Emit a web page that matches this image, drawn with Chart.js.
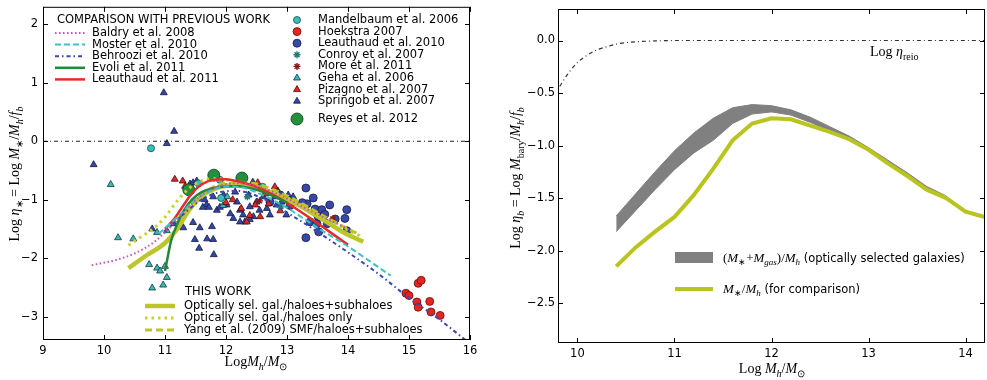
<!DOCTYPE html>
<html>
<head>
<meta charset="utf-8">
<script src="https://cdn.jsdelivr.net/npm/chart.js@4.4.1/dist/chart.umd.min.js"></script>
<style>
  html, body { margin: 0; padding: 0; background: #fff; }
  #wrap { position: relative; width: 987px; height: 380px; }
  #left { position: absolute; left: 0; top: 0; }
  #right { position: absolute; left: 490px; top: 0; }
</style>
</head>
<body>
<div id="wrap">
  <canvas id="left" width="490" height="380"></canvas>
  <canvas id="right" width="497" height="380"></canvas>
</div>
<script>
// ---------- left panel: ticks ----------
const leftXTicks = [9, 10, 11, 12, 13, 14, 15, 16];
const leftYTicks = [-3, -2, -1, 0, 1, 2];

// previous work, curves
const baldryX = [9.8, 10.2, 10.5, 10.8, 11.0, 11.3, 11.6, 11.9, 12.2, 12.6, 13.0, 13.4, 13.8, 14.0];
const baldryY = [-2.12, -2.03, -1.92, -1.74, -1.56, -1.22, -0.92, -0.76, -0.72, -0.8, -0.98, -1.2, -1.4, -1.5];
const mosterX = [10.9, 11.2, 11.5, 11.8, 12.0, 12.3, 12.6, 13.0, 13.5, 14.0, 14.7];
const mosterY = [-1.58, -1.3, -1.0, -0.82, -0.77, -0.8, -0.92, -1.14, -1.48, -1.8, -2.3];
const behrooziX = [11.0, 11.3, 11.6, 11.9, 12.2, 12.6, 13.0, 13.5, 14.0, 14.5, 15.0, 15.5, 15.95];
const behrooziY = [-1.55, -1.25, -1.0, -0.87, -0.85, -0.98, -1.22, -1.55, -1.9, -2.27, -2.68, -3.05, -3.42];
const evoliX = [11.0, 11.05, 11.1, 11.2, 11.3, 11.45, 11.6, 11.8, 12.0, 12.2, 12.5, 12.8, 13.0];
const evoliY = [-2.22, -1.95, -1.7, -1.42, -1.2, -0.99, -0.87, -0.8, -0.77, -0.77, -0.83, -0.95, -1.05];
const leau11X = [11.0, 11.15, 11.3, 11.45, 11.6, 11.8, 12.0, 12.2, 12.5, 12.8, 13.1, 13.4, 13.7, 14.0];
const leau11Y = [-1.5, -1.33, -1.1, -0.88, -0.74, -0.66, -0.65, -0.69, -0.78, -0.93, -1.12, -1.33, -1.55, -1.77];

// this work, curves
const subX = [10.4, 10.7, 11.0, 11.2, 11.4, 11.6, 11.8, 12.0, 12.2, 12.4, 12.6, 12.8, 13.0, 13.2, 13.4, 13.6, 13.8, 14.0, 14.25];
const subY = [-2.17, -1.95, -1.74, -1.5, -1.17, -0.94, -0.82, -0.76, -0.75, -0.78, -0.83, -0.9, -1.0, -1.1, -1.22, -1.35, -1.48, -1.6, -1.72];
const onlyX = [10.4, 10.6, 10.8, 11.0, 11.2, 11.4, 11.6, 11.8, 12.0, 12.4, 12.8, 13.2, 13.6, 14.0, 14.2];
const onlyY = [-1.78, -1.64, -1.5, -1.3, -1.02, -0.8, -0.68, -0.64, -0.66, -0.74, -0.88, -1.07, -1.3, -1.52, -1.62];
const yangX = [11.2, 11.5, 11.8, 12.0, 12.4, 12.8, 13.2, 13.6, 14.0, 14.2];
const yangY = [-1.35, -0.98, -0.78, -0.72, -0.72, -0.84, -1.04, -1.28, -1.5, -1.6];

const zeroX = [9, 16];
const zeroY = [0, 0];

// observations
const mandelX = [10.77, 11.55, 11.9, 11.92, 12.6];
const mandelY = [-0.12, -0.72, -0.66, -0.97, -0.78];
const hoekX = [14.95, 15.0, 15.15, 15.2, 15.13, 15.15, 15.34, 15.36, 15.51];
const hoekY = [-2.6, -2.64, -2.43, -2.38, -2.75, -2.84, -2.74, -2.92, -2.98];
const leau10X = [13.31, 13.43, 13.33, 13.25, 13.46, 13.57, 13.51, 13.38, 13.49, 13.66, 13.70, 13.98, 13.95, 13.79, 13.98, 13.31, 13.52, 12.89, 12.72, 13.05, 13.62];
const leau10Y = [-0.8, -0.97, -1.07, -1.05, -1.16, -1.17, -1.29, -1.38, -1.41, -1.41, -1.09, -1.17, -1.32, -1.33, -1.53, -1.65, -1.55, -0.92, -1.04, -1.1, -1.25];
const conroyX = [12.35, 12.9];
const conroyY = [-0.95, -1.12];
const moreX = [13.75, 12.55];
const moreY = [-1.33, -1.02];
const gehaX = [10.11, 10.23, 10.48, 10.87, 11.03, 10.74, 10.87, 11.0, 10.92, 11.03, 10.79, 10.97, 12.02, 11.95];
const gehaY = [-0.74, -1.65, -1.67, -1.56, -1.53, -2.11, -2.17, -2.14, -2.22, -2.33, -2.51, -2.46, -0.95, -1.1];
const pizX = [11.16, 11.29, 11.33, 12.11, 12.39, 12.48, 12.70, 12.89, 12.52, 12.25, 12.0, 12.56, 12.34, 12.8, 12.65];
const pizY = [-0.65, -0.68, -0.77, -1.0, -1.27, -1.09, -1.07, -1.19, -0.71, -1.15, -1.05, -1.29, -1.38, -0.78, -0.9];
const springX = [10.98, 11.15, 11.03, 9.83, 11.41, 11.46, 11.52, 10.79, 11.15, 11.30, 11.46, 11.57, 11.49, 11.69, 11.79, 11.56, 11.80, 11.77,
  11.68, 11.79, 11.85, 11.96, 12.01, 12.07, 12.12, 12.15, 12.18, 12.23, 12.28, 12.31, 12.37, 12.39, 12.45, 12.50, 12.61, 12.67, 12.72,
  12.80, 12.83, 12.91, 12.99, 13.02, 11.62, 11.72, 11.9, 12.44, 12.23, 12.39, 12.55, 12.85, 13.1, 11.65];
const springY = [0.83, 0.17, -0.04, -0.4, -0.73, -0.71, -0.68, -1.5, -1.41, -1.48, -1.39, -1.48, -1.68, -1.67, -1.68, -1.83, -1.94, -1.46,
  -1.09, -0.95, -1.18, -0.92, -1.09, -1.24, -1.32, -0.87, -1.04, -1.18, -1.26, -1.38, -0.92, -1.12, -1.29, -1.04, -0.95, -1.15, -1.26,
  -0.95, -1.09, -1.04, -1.26, -0.92, -1.13, -1.13, -1.13, -0.7, -1.38, -1.34, -1.18, -0.85, -0.95, -1.0];
const reyesX = [11.39, 11.80, 12.26];
const reyesY = [-0.83, -0.58, -0.63];

// ---------- right panel ----------
const rightXTicks = [10, 11, 12, 13, 14];
const rightYTicks = [-2.5, -2.0, -1.5, -1.0, -0.5, 0.0];
const mStarX = [10.4, 10.6, 10.8, 11.0, 11.2, 11.4, 11.6, 11.8, 12.0, 12.2, 12.4, 12.6, 12.8, 13.0, 13.2, 13.4, 13.6, 13.8, 14.0, 14.2];
const mStarY = [-2.15, -1.97, -1.82, -1.68, -1.47, -1.22, -0.95, -0.79, -0.74, -0.75, -0.81, -0.87, -0.94, -1.04, -1.17, -1.29, -1.42, -1.5, -1.63, -1.68];
const bandX = [10.4, 10.6, 10.8, 11.0, 11.2, 11.4, 11.6, 11.8, 12.0, 12.2, 12.4, 12.6, 12.8, 13.0, 13.2, 13.4, 13.6, 13.8];
const bandHi = [-1.67, -1.46, -1.25, -1.05, -0.88, -0.74, -0.64, -0.61, -0.62, -0.66, -0.73, -0.82, -0.91, -1.02, -1.14, -1.26, -1.39, -1.48];
const bandLo = [-1.82, -1.62, -1.42, -1.23, -1.07, -0.95, -0.79, -0.7, -0.68, -0.71, -0.78, -0.86, -0.93, -1.04, -1.16, -1.28, -1.41, -1.49];
const reioX = [9.75, 9.8, 9.9, 10.0, 10.1, 10.2, 10.3, 10.4, 10.5, 10.6, 10.8, 11.0, 14.2];
const reioY = [-0.52, -0.46, -0.32, -0.21, -0.14, -0.09, -0.06, -0.035, -0.02, -0.012, -0.004, 0, 0];

// ---------- styles ----------
const YELLOW = '#bcc52a';
const lineStyles = {
  baldry:   { label: 'Baldry et al. 2008',    color: '#c64fc6', width: 2,   dash: [1.5, 2.5] },
  moster:   { label: 'Moster et al. 2010',    color: '#3cc4c4', width: 2,   dash: [6, 3] },
  behroozi: { label: 'Behroozi et al. 2010',  color: '#3a48b4', width: 2,   dash: [4, 3, 1.5, 3] },
  evoli:    { label: 'Evoli et al. 2011',     color: '#23883a', width: 2.5, dash: [] },
  leau11:   { label: 'Leauthaud et al. 2011', color: '#ea2a2a', width: 2.5, dash: [] },
  sub:      { label: 'Optically sel. gal./haloes+subhaloes',  color: YELLOW, width: 4.5, dash: [] },
  only:     { label: 'Optically sel. gal./haloes only',       color: '#c9d12e', width: 3, dash: [2.5, 4] },
  yang:     { label: 'Yang et al. (2009) SMF/haloes+subhaloes', color: YELLOW, width: 3, dash: [7, 4] }
};
const pointStyles = {
  mandel: { label: 'Mandelbaum et al. 2006', shape: 'circle',   r: 3.5, fill: '#35c0c0', edge: '#1b4747' },
  hoek:   { label: 'Hoekstra 2007',          shape: 'circle',   r: 4,   fill: '#e8241f', edge: '#6a1010' },
  leau10: { label: 'Leauthaud et al. 2010',  shape: 'circle',   r: 4,   fill: '#3848a8', edge: '#161c44' },
  conroy: { label: 'Conroy et al. 2007',     shape: 'star',     r: 3.5, fill: '#1f7a7a', edge: '#1f7a7a' },
  more:   { label: 'More et al. 2011',       shape: 'star',     r: 3.5, fill: '#8a1a1a', edge: '#8a1a1a' },
  geha:   { label: 'Geha et al. 2006',       shape: 'triangle', r: 4,   fill: '#35b9b9', edge: '#173a3a' },
  piz:    { label: 'Pizagno et al. 2007',    shape: 'triangle', r: 4,   fill: '#e8241f', edge: '#4a0a0a' },
  spring: { label: 'Springob et al. 2007',   shape: 'triangle', r: 4,   fill: '#3446a8', edge: '#121a40' },
  reyes:  { label: 'Reyes et al. 2012',      shape: 'circle',   r: 6,   fill: '#22903c', edge: '#0c3a18' }
};

const zip = (xs, ys) => xs.map((x, i) => ({ x: x, y: ys[i] }));
const minus = v => (v < 0 ? '\u2212' : '');
const TICK_FONT = { family: '"DejaVu Sans"', size: 11.5 };
const LEG_FONT = '11.5px "DejaVu Sans"';

function curve(s, xs, ys, order, tension) {
  return {
    label: s.label, data: zip(xs, ys), showLine: true, pointRadius: 0,
    borderColor: s.color, borderWidth: s.width, borderDash: s.dash,
    cubicInterpolationMode: tension ? 'monotone' : 'default', tension: 0,
    fill: false, order: order
  };
}
function dots(s, xs, ys, order) {
  return {
    label: s.label, data: zip(xs, ys), showLine: false,
    pointStyle: s.shape, pointRadius: s.r, pointBackgroundColor: s.fill,
    pointBorderColor: s.edge, pointBorderWidth: s.shape === 'star' ? 1.4 : 0.8,
    order: order
  };
}

// ---------- drawing helpers ----------
function drawMath(ctx, parts, x, y, size, align) {
  const fontFor = k => {
    const sub = k === 's' || k === 'sr';
    const sz = sub ? Math.round(size * 0.7) : size;
    const it = (k === 'i' || k === 's') ? 'italic ' : '';
    const fam = k === 'n' ? '"DejaVu Sans"' : '"Liberation Serif"';
    return it + (k === 'n' ? 11.5 : sz) + 'px ' + fam;
  };
  let w = 0;
  parts.forEach(([t, k]) => { ctx.font = fontFor(k); w += ctx.measureText(t).width; });
  let cx = align === 'center' ? x - w / 2 : x;
  ctx.textAlign = 'left';
  ctx.textBaseline = 'alphabetic';
  parts.forEach(([t, k]) => {
    ctx.font = fontFor(k);
    const dy = (k === 's' || k === 'sr') ? size * 0.25 : 0;
    ctx.fillText(t, cx, y + dy);
    cx += ctx.measureText(t).width;
  });
}
function lineSample(ctx, x1, x2, y, s) {
  ctx.save();
  ctx.strokeStyle = s.color;
  ctx.lineWidth = s.width;
  ctx.setLineDash(s.dash);
  ctx.beginPath(); ctx.moveTo(x1, y); ctx.lineTo(x2, y); ctx.stroke();
  ctx.restore();
}
function markerSample(ctx, x, y, s) {
  ctx.save();
  ctx.fillStyle = s.fill;
  ctx.strokeStyle = s.edge;
  ctx.lineWidth = s.shape === 'star' ? 1.4 : 0.8;
  Chart.helpers.drawPoint(ctx, { pointStyle: s.shape, radius: s.r, rotation: 0, borderWidth: ctx.lineWidth }, x, y);
  ctx.restore();
}

// frame with inward ticks on all four sides
const frame = {
  id: 'frame',
  afterDraw(chart) {
    const { ctx, chartArea: a, scales } = chart;
    ctx.save();
    ctx.strokeStyle = '#000';
    ctx.lineWidth = 1;
    ctx.strokeRect(a.left + 0.5, a.top + 0.5, a.right - a.left - 1, a.bottom - a.top - 1);
    ctx.beginPath();
    scales.x.ticks.forEach(t => {
      const px = Math.round(scales.x.getPixelForValue(t.value)) + 0.5;
      ctx.moveTo(px, a.bottom); ctx.lineTo(px, a.bottom - 5);
      ctx.moveTo(px, a.top); ctx.lineTo(px, a.top + 5);
    });
    scales.y.ticks.forEach(t => {
      const py = Math.round(scales.y.getPixelForValue(t.value)) + 0.5;
      ctx.moveTo(a.left, py); ctx.lineTo(a.left + 5, py);
      ctx.moveTo(a.right, py); ctx.lineTo(a.right - 5, py);
    });
    ctx.stroke();
    ctx.restore();
  }
};

function axes(xMin, xMax, yMin, yMax, xTicks, yTicks, xH, yW, yFmt, xPad, yPad) {
  return {
    x: {
      type: 'linear', min: xMin, max: xMax,
      afterBuildTicks: s => { s.ticks = xTicks.map(v => ({ value: v })); },
      afterFit: s => { s.height = xH; s.paddingLeft = 0; s.paddingRight = 0; },
      grid: { display: false, drawTicks: false }, border: { display: false },
      ticks: { color: '#000', font: TICK_FONT, padding: xPad, maxRotation: 0, autoSkip: false,
               callback: v => minus(v) + Math.abs(v) }
    },
    y: {
      type: 'linear', min: yMin, max: yMax,
      afterBuildTicks: s => { s.ticks = yTicks.map(v => ({ value: v })); },
      afterFit: s => { s.width = yW; s.paddingTop = 0; s.paddingBottom = 0; },
      grid: { display: false, drawTicks: false }, border: { display: false },
      ticks: { color: '#000', font: TICK_FONT, padding: yPad, autoSkip: false, callback: yFmt }
    }
  };
}

// ---------- left chart ----------
const leftDecor = {
  id: 'leftDecor',
  afterDraw(chart) {
    const ctx = chart.ctx;
    ctx.save();
    ctx.fillStyle = '#000';
    ctx.font = LEG_FONT;
    ctx.textAlign = 'left';
    ctx.textBaseline = 'middle';
    ctx.fillText('COMPARISON WITH PREVIOUS WORK', 57, 20);
    ['baldry', 'moster', 'behroozi', 'evoli', 'leau11'].forEach((k, i) => {
      const y = 33 + i * 11.6;
      lineSample(ctx, 55, 85, y, lineStyles[k]);
      ctx.fillStyle = '#000'; ctx.font = LEG_FONT;
      ctx.fillText(lineStyles[k].label, 92, y);
    });
    ['mandel', 'hoek', 'leau10', 'conroy', 'more', 'geha', 'piz', 'spring', 'reyes'].forEach((k, i) => {
      const y = k === 'reyes' ? 119 : 20 + i * 11.6;
      markerSample(ctx, 297, y, pointStyles[k]);
      ctx.fillStyle = '#000'; ctx.font = LEG_FONT;
      ctx.textBaseline = 'middle';
      ctx.fillText(pointStyles[k].label, 318, y);
    });
    ctx.fillText('THIS WORK', 185, 292);
    ['sub', 'only', 'yang'].forEach((k, i) => {
      const y = 306 + i * 12;
      lineSample(ctx, 145, 175, y, lineStyles[k]);
      ctx.fillStyle = '#000'; ctx.font = LEG_FONT; ctx.textBaseline = 'middle';
      ctx.fillText(lineStyles[k].label, 184, y);
    });
    // axis titles
    ctx.fillStyle = '#000';
    drawMath(ctx, [['Log', 'r'], ['M', 'i'], ['h', 's'], ['/', 'r'], ['M', 'i'], ['\u2299', 'sr']], 256, 366, 14, 'center');
    ctx.save();
    ctx.translate(19, 174);
    ctx.rotate(-Math.PI / 2);
    drawMath(ctx, [['Log ', 'r'], ['\u03b7', 'i'], ['\u2217', 'sr'], [' = Log ', 'r'], ['M', 'i'], ['\u2217', 'sr'],
                   ['/', 'r'], ['M', 'i'], ['h', 's'], ['/', 'r'], ['f', 'i'], ['b', 's']], 0, 0, 14, 'center');
    ctx.restore();
    ctx.restore();
  }
};

new Chart(document.getElementById('left'), {
  type: 'line',
  data: {
    datasets: [
      { label: 'zero', data: zip(zeroX, zeroY), showLine: true, pointRadius: 0, borderColor: '#222',
        borderWidth: 1.2, borderDash: [4, 3, 1, 3], order: 0 },
      curve(lineStyles.baldry, baldryX, baldryY, 0, true),
      curve(lineStyles.moster, mosterX, mosterY, 0, true),
      curve(lineStyles.behroozi, behrooziX, behrooziY, 0, true),
      curve(lineStyles.evoli, evoliX, evoliY, 0, true),
      curve(lineStyles.leau11, leau11X, leau11Y, 0, true),
      curve(lineStyles.yang, yangX, yangY, 0, true),
      curve(lineStyles.only, onlyX, onlyY, 0, true),
      curve(lineStyles.sub, subX, subY, 0, true),
      dots(pointStyles.reyes, reyesX, reyesY, 1),
      dots(pointStyles.mandel, mandelX, mandelY, 2),
      dots(pointStyles.conroy, conroyX, conroyY, 2),
      dots(pointStyles.more, moreX, moreY, 2),
      dots(pointStyles.piz, pizX, pizY, 3),
      dots(pointStyles.hoek, hoekX, hoekY, 3),
      dots(pointStyles.geha, gehaX, gehaY, 3),
      dots(pointStyles.leau10, leau10X, leau10Y, 4),
      dots(pointStyles.spring, springX, springY, 4)
    ]
  },
  options: {
    responsive: false, animation: false,
    layout: { padding: { top: 6, right: 20, left: 0, bottom: 0 } },
    plugins: { legend: { display: false }, tooltip: { enabled: false } },
    scales: axes(9, 16, -3.4, 2.3, leftXTicks, leftYTicks, 40, 43, v => minus(v) + Math.abs(v), 4, 5)
  },
  plugins: [frame, leftDecor]
});

// ---------- right chart ----------
const bandStyle = { label: '(M*+Mgas)/Mh (optically selected galaxies)', color: '#808080' };
const mStarStyle = { label: 'M*/Mh (for comparison)', color: '#b9c41e', width: 4, dash: [] };

const rightDecor = {
  id: 'rightDecor',
  afterDraw(chart) {
    const ctx = chart.ctx;
    ctx.save();
    ctx.fillStyle = '#000';
    drawMath(ctx, [['Log ', 'r'], ['\u03b7', 'i'], ['reio', 'sr']], 380, 56, 14, 'left');
    // legend
    ctx.fillStyle = bandStyle.color;
    ctx.fillRect(185, 252, 38, 11);
    ctx.fillStyle = '#000';
    drawMath(ctx, [['(', 'r'], ['M', 'i'], ['\u2217', 'sr'], ['+', 'r'], ['M', 'i'], ['gas', 's'], [')/', 'r'],
                   ['M', 'i'], ['h', 's'], [' (optically selected galaxies)', 'n']], 233, 262, 13, 'left');
    lineSample(ctx, 185, 223, 289, mStarStyle);
    ctx.fillStyle = '#000';
    drawMath(ctx, [['M', 'i'], ['\u2217', 'sr'], ['/', 'r'], ['M', 'i'], ['h', 's'], [' (for comparison)', 'n']], 233, 293, 13, 'left');
    // axis titles
    drawMath(ctx, [['Log ', 'r'], ['M', 'i'], ['h', 's'], ['/', 'r'], ['M', 'i'], ['\u2299', 'sr']], 282, 373, 14, 'center');
    ctx.save();
    ctx.translate(30, 178);
    ctx.rotate(-Math.PI / 2);
    drawMath(ctx, [['Log ', 'r'], ['\u03b7', 'i'], ['b', 's'], [' = Log ', 'r'], ['M', 'i'], ['bary', 'sr'],
                   ['/', 'r'], ['M', 'i'], ['h', 's'], ['/', 'r'], ['f', 'i'], ['b', 's']], 0, 0, 14, 'center');
    ctx.restore();
    ctx.restore();
  }
};

new Chart(document.getElementById('right'), {
  type: 'line',
  data: {
    datasets: [
      { label: 'reio', data: zip(reioX, reioY), showLine: true, pointRadius: 0, borderColor: '#333',
        borderWidth: 1.2, borderDash: [4, 3, 1, 3], cubicInterpolationMode: 'monotone', order: 0 },
      { label: 'band upper', data: zip(bandX, bandHi), showLine: true, pointRadius: 0, tension: 0,
        borderColor: bandStyle.color, borderWidth: 1, backgroundColor: bandStyle.color, fill: '+1', order: 2 },
      { label: 'band lower', data: zip(bandX, bandLo), showLine: true, pointRadius: 0, tension: 0,
        borderColor: bandStyle.color, borderWidth: 1, fill: false, order: 2 },
      { label: mStarStyle.label, data: zip(mStarX, mStarY), showLine: true, pointRadius: 0, tension: 0,
        borderColor: mStarStyle.color, borderWidth: mStarStyle.width, fill: false, order: 1 }
    ]
  },
  options: {
    responsive: false, animation: false,
    layout: { padding: { top: 9, right: 2, left: 0, bottom: 0 } },
    plugins: { legend: { display: false }, tooltip: { enabled: false } },
    scales: axes(9.8, 14.2, -2.88, 0.3, rightXTicks, rightYTicks, 37, 68,
                 v => minus(v) + Math.abs(v).toFixed(1), 4, 3)
  },
  plugins: [frame, rightDecor]
});
</script>
</body>
</html>
